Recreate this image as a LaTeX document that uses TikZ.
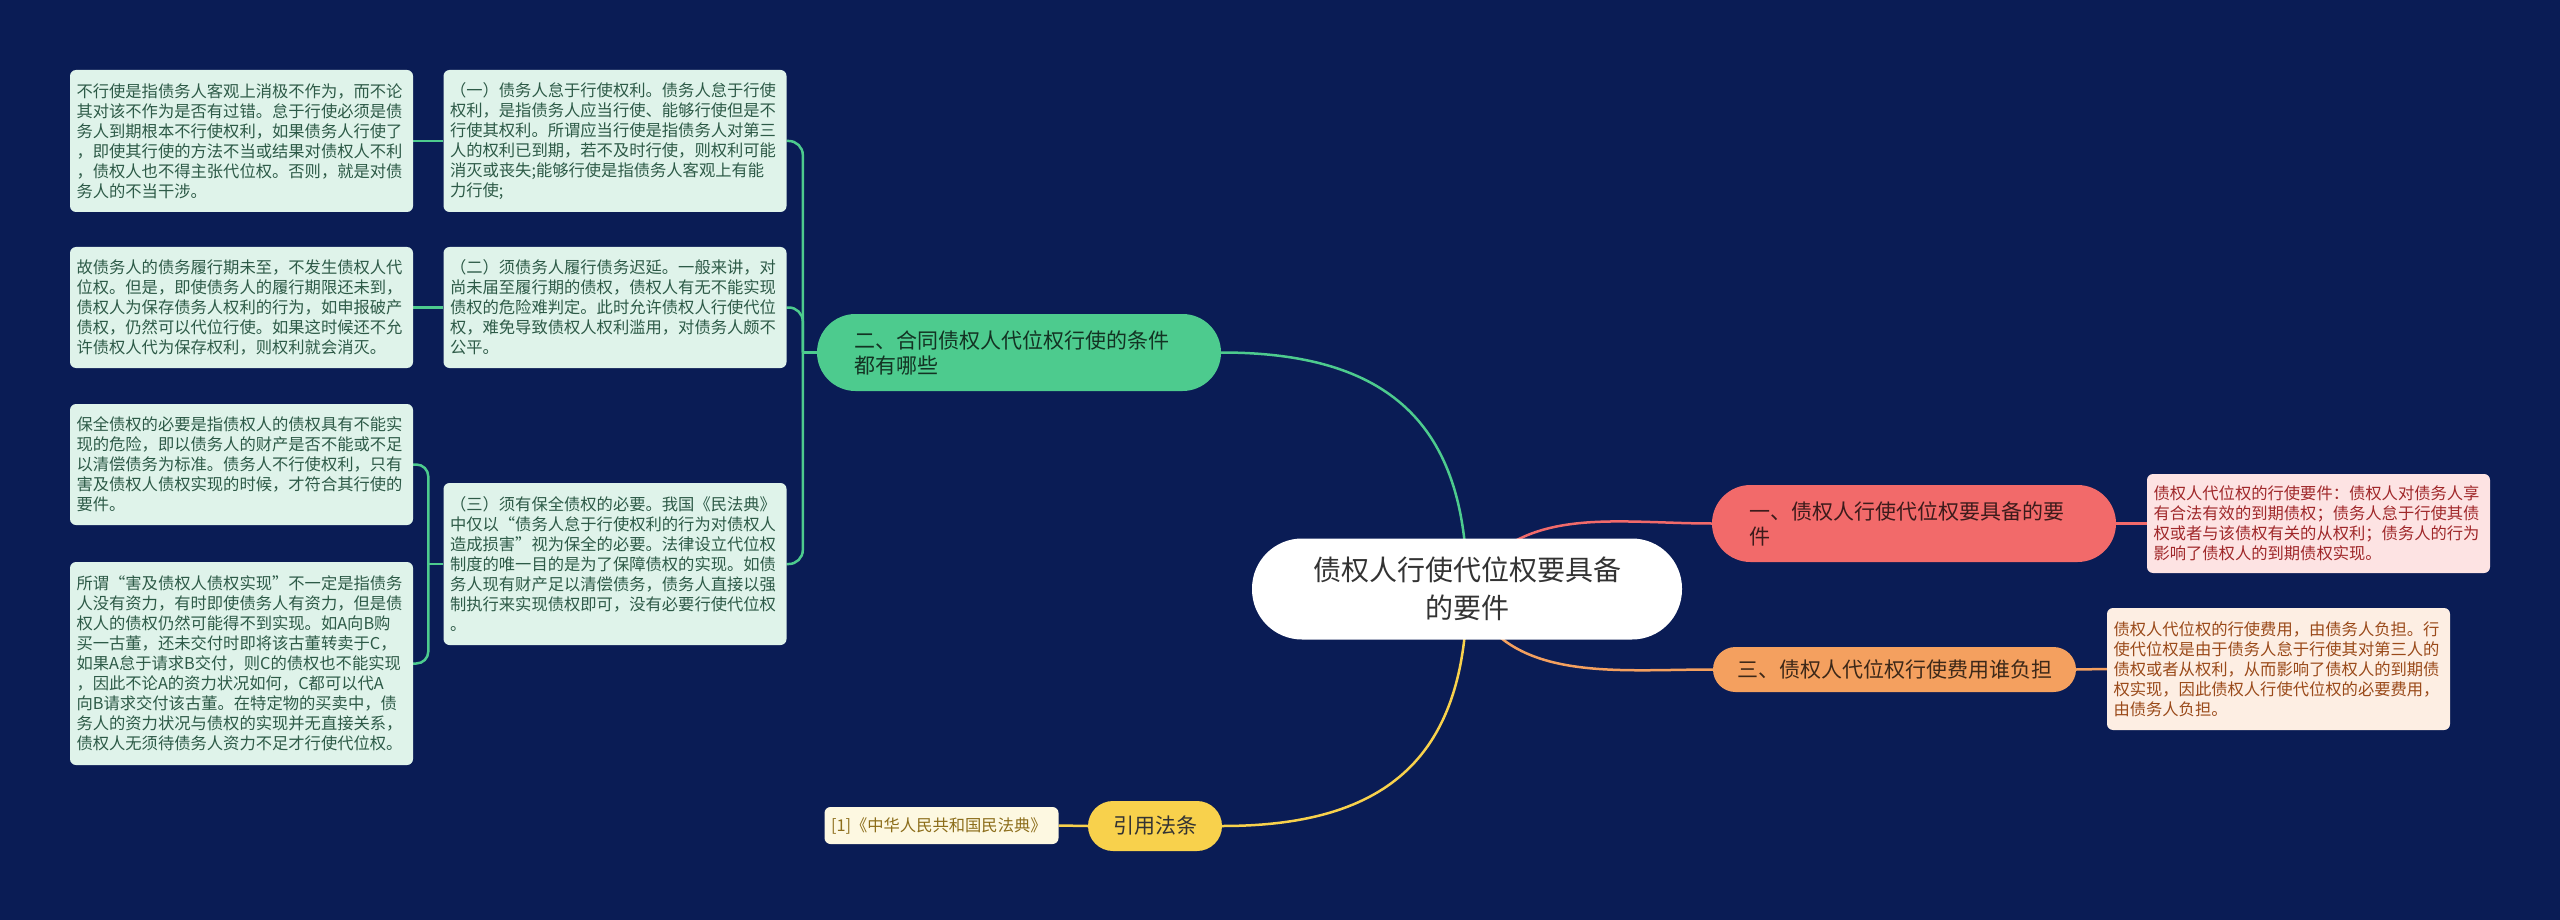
\documentclass[tikz,border=0pt]{standalone}
\usepackage{fontspec}
\setmainfont{Noto Sans CJK SC}
\usetikzlibrary{positioning,backgrounds}
\definecolor{pagebg}{HTML}{0A1C55}
\definecolor{mint}{HTML}{4DCB8E}
\definecolor{mintfill}{HTML}{DFF3EA}
\definecolor{minttext}{HTML}{2D5A47}
\definecolor{coral}{HTML}{F26A6A}
\definecolor{coralfill}{HTML}{FDE3E3}
\definecolor{coraltext}{HTML}{A0282A}
\definecolor{amber}{HTML}{F4A05F}
\definecolor{amberfill}{HTML}{FDEEE3}
\definecolor{ambertext}{HTML}{9A4A1A}
\definecolor{gold}{HTML}{F8D14C}
\definecolor{goldfill}{HTML}{FDF8E1}
\definecolor{goldtext}{HTML}{8C6D1A}

\begin{document}
\begin{tikzpicture}[x=1pt, y=-1pt,
    rootbox/.style={fill=white, rounded corners=50pt, minimum width=430pt, minimum height=101pt,
                text=black!80, font=\fontsize{28}{38}\selectfont, align=center},
    pill/.style={rounded corners=38.5pt, minimum height=77pt, inner xsep=37pt, inner ysep=0pt,
                text width=330pt, font=\fontsize{21}{25}\selectfont, align=left},
    smallpill/.style={inner xsep=0pt, inner ysep=0pt, font=\fontsize{21}{25}\selectfont, align=center},
    leaf/.style={fill=mintfill, text=minttext, rounded corners=6pt, inner xsep=6.5pt, inner ysep=0pt,
                text width=330pt, font=\fontsize{16.3}{20}\selectfont, align=left},
    link/.style={line width=2.5pt},
]
\begin{scope}[on background layer]
\fill[pagebg] (0,0) rectangle (2560,920);
\end{scope}

% centre
\node[rootbox] (root) at (1467,589) {债权人行使代位权要具备\\的要件};

% right side
\node[pill, fill=coral, text=black!75!coral] (r1) at (1914,523.5) {一、债权人行使代位权要具备的要\\件};
\node[leaf, fill=coralfill, text=coraltext, minimum height=99pt] (r1d) at (2318.5,523.5)
    {债权人代位权的行使要件：债权人对债务人享\\有合法有效的到期债权；债务人怠于行使其债\\权或者与该债权有关的从权利；债务人的行为\\影响了债权人的到期债权实现。};
\node[smallpill, fill=amber, text=black!75!amber, rounded corners=22.5pt, minimum width=363pt, minimum height=45pt]
    (o3) at (1894.5,669.5) {三、债权人代位权行使费用谁负担};
\node[leaf, fill=amberfill, text=ambertext, minimum height=122pt] (o3d) at (2278.5,669)
    {债权人代位权的行使费用，由债务人负担。行\\使代位权是由于债务人怠于行使其对第三人的\\债权或者从权利，从而影响了债权人的到期债\\权实现，因此债权人行使代位权的必要费用，\\由债务人负担。};

% left side
\node[pill, fill=mint, text=black!75!mint] (g2) at (1019,352.5) {二、合同债权人代位权行使的条件\\都有哪些};
\node[smallpill, fill=gold, text=black!80, rounded corners=25pt, minimum width=134pt, minimum height=50pt]
    (y4) at (1155,826) {引用法条};
\node[leaf, fill=goldfill, text=goldtext, text width=221pt, minimum height=37pt] (y4d) at (941.5,825.5)
    {[1]《中华人民共和国民法典》};

\node[leaf, minimum height=142pt] (l2a) at (615,141)
    {（一）债务人怠于行使权利。债务人怠于行使\\权利，是指债务人应当行使、能够行使但是不\\行使其权利。所谓应当行使是指债务人对第三\\人的权利已到期，若不及时行使，则权利可能\\消灭或丧失;能够行使是指债务人客观上有能\\力行使;};
\node[leaf, minimum height=121pt] (l2b) at (615,307.5)
    {（二）须债务人履行债务迟延。一般来讲，对\\尚未届至履行期的债权，债权人有无不能实现\\债权的危险难判定。此时允许债权人行使代位\\权，难免导致债权人权利滥用，对债务人颇不\\公平。};
\node[leaf, minimum height=162pt] (l2c) at (615,564)
    {（三）须有保全债权的必要。我国《民法典》\\中仅以“债务人怠于行使权利的行为对债权人\\造成损害”视为保全的必要。法律设立代位权\\制度的唯一目的是为了保障债权的实现。如债\\务人现有财产足以清偿债务，债务人直接以强\\制执行来实现债权即可，没有必要行使代位权\\。};

\node[leaf, minimum height=142pt] (l3a) at (241.5,141)
    {不行使是指债务人客观上消极不作为，而不论\\其对该不作为是否有过错。怠于行使必须是债\\务人到期根本不行使权利，如果债务人行使了\\，即使其行使的方法不当或结果对债权人不利\\，债权人也不得主张代位权。否则，就是对债\\务人的不当干涉。};
\node[leaf, minimum height=121pt] (l3b) at (241.5,307.5)
    {故债务人的债务履行期未至，不发生债权人代\\位权。但是，即使债务人的履行期限还未到，\\债权人为保存债务人权利的行为，如申报破产\\债权，仍然可以代位行使。如果这时候还不允\\许债权人代为保存权利，则权利就会消灭。};
\node[leaf, minimum height=121pt] (l3c) at (241.5,464.5)
    {保全债权的必要是指债权人的债权具有不能实\\现的危险，即以债务人的财产是否不能或不足\\以清偿债务为标准。债务人不行使权利，只有\\害及债权人债权实现的时候，才符合其行使的\\要件。};
\node[leaf, minimum height=203pt] (l3d) at (241.5,663.5)
    {所谓“害及债权人债权实现”不一定是指债务\\人没有资力，有时即使债务人有资力，但是债\\权人的债权仍然可能得不到实现。如A向B购\\买一古董，还未交付时即将该古董转卖于C，\\如果A怠于请求B交付，则C的债权也不能实现\\，因此不论A的资力状况如何，C都可以代A\\向B请求交付该古董。在特定物的买卖中，债\\务人的资力状况与债权的实现并无直接关系，\\债权人无须待债务人资力不足才行使代位权。};

% connectors
\begin{scope}[on background layer]
\draw[link, mint] (root.center) to[out=90,in=0,looseness=1.25] (g2.east);
\draw[link, coral] (root.center) to[out=60,in=180] (r1.west);
\draw[link, amber] (root.center) to[out=-70,in=180] (o3.west);
\draw[link, gold] (root.center) to[out=-90,in=0,looseness=1.25] (y4.east);
\draw[link, coral] (r1.east) -- (r1d.west);
\draw[link, amber] (o3.east) -- (o3d.west);
\draw[link, gold] (y4.west) -- (y4d.east);
\draw[link, mint] (g2.west) -- ++(-14,0) coordinate (gj);
\foreach \n in {l2a,l2b,l2c} {
    \draw[link, mint, rounded corners=14pt] (gj) |- (\n.east);
}
\draw[link, mint] (l2a.west) -- (l3a.east);
\draw[link, mint] (l2b.west) -- (l3b.east);
\draw[link, mint] (l2c.west) -- ++(-15,0) coordinate (cj);
\foreach \n in {l3c,l3d} {
    \draw[link, mint, rounded corners=12pt] (cj) |- (\n.east);
}
\end{scope}
\end{tikzpicture}
\end{document}
